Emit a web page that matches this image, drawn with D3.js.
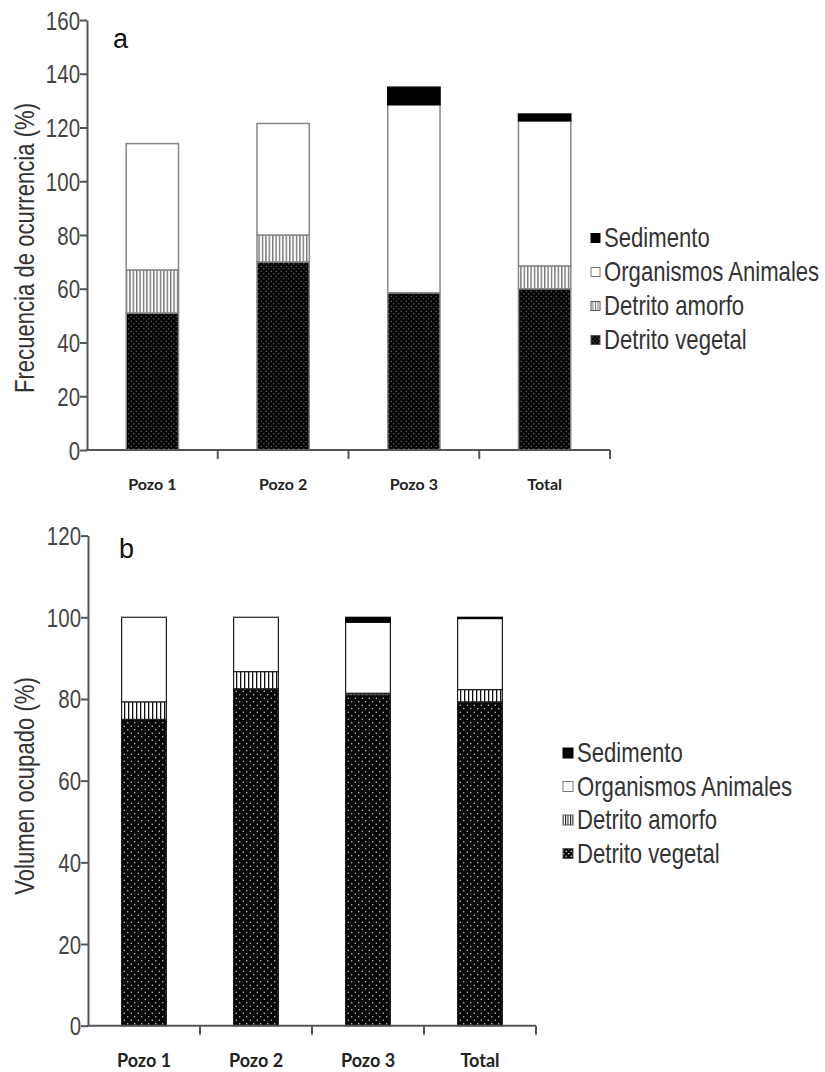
<!DOCTYPE html>
<html><head><meta charset="utf-8">
<script src="https://cdn.jsdelivr.net/npm/d3@7/dist/d3.min.js"></script>
<style>
html,body{margin:0;padding:0;background:#fff;}
svg{display:block;}
</style></head>
<body>
<svg id="chart" width="825" height="1072"></svg>
<script>
// ---------- DATA ----------
const categories = ["Pozo 1", "Pozo 2", "Pozo 3", "Total"];
const seriesNames = ["Detrito vegetal", "Detrito amorfo", "Organismos Animales", "Sedimento"];
const legendOrder = ["Sedimento", "Organismos Animales", "Detrito amorfo", "Detrito vegetal"];

// Panel a: Frecuencia de ocurrencia (%)
const freqVegetal = [51, 70, 58.5, 60];
const freqAmorfo = [16, 10, 0, 8.5];
const freqOrganismos = [47, 41.5, 70, 54];
const freqSedimento = [0, 0, 6.5, 2.5];
const freqTicks = [0, 20, 40, 60, 80, 100, 120, 140, 160];

// Panel b: Volumen ocupado (%)
const volVegetal = [75, 82.5, 81, 79.3];
const volAmorfo = [4.3, 4.2, 0.4, 3];
const volOrganismos = [20.7, 13.3, 17.4, 17.4];
const volSedimento = [0, 0, 1.2, 0.3];
const volTicks = [0, 20, 40, 60, 80, 100, 120];

// ---------- DRAW ----------
const svg = d3.select("#chart");
const defs = svg.append("defs");
const NARROW = 0.82;
const sansFont = "'Liberation Sans', Arial, sans-serif";

function makePatterns(id, opts) {
  const pd = defs.append("pattern").attr("id", id + "-dots")
    .attr("patternUnits", "userSpaceOnUse").attr("width", opts.dotStep).attr("height", opts.dotStep);
  pd.append("rect").attr("width", opts.dotStep).attr("height", opts.dotStep).attr("fill", "#050505");
  pd.append("circle").attr("cx", opts.dotStep * 0.25).attr("cy", opts.dotStep * 0.25).attr("r", opts.dotR).attr("fill", opts.dotColor);
  pd.append("circle").attr("cx", opts.dotStep * 0.75).attr("cy", opts.dotStep * 0.75).attr("r", opts.dotR).attr("fill", opts.dotColor);
  const ps = defs.append("pattern").attr("id", id + "-stripes")
    .attr("patternUnits", "userSpaceOnUse").attr("width", opts.stripeStep).attr("height", 10);
  ps.append("rect").attr("width", opts.stripeStep).attr("height", 10).attr("fill", "#fff");
  ps.append("rect").attr("x", 0).attr("width", opts.stripeW).attr("height", 10).attr("fill", opts.stripeColor);
}
makePatterns("a", {dotStep: 5, dotR: 0.6, dotColor: "#9a9a9a", stripeStep: 3.4, stripeW: 1.4, stripeColor: "#777"});
makePatterns("b", {dotStep: 7, dotR: 0.7, dotColor: "#e6e6e6", stripeStep: 4, stripeW: 1.3, stripeColor: "#111"});
makePatterns("la", {dotStep: 4, dotR: 0.6, dotColor: "#999", stripeStep: 2.5, stripeW: 1, stripeColor: "#777"});
makePatterns("lb", {dotStep: 5, dotR: 0.8, dotColor: "#ddd", stripeStep: 2.5, stripeW: 1, stripeColor: "#111"});

function drawPanel(cfg) {
  const g = svg.append("g");
  const series = [cfg.vegetal, cfg.amorfo, cfg.organismos, cfg.sedimento];
  const rows = categories.map((c, i) => {
    const r = {cat: c};
    seriesNames.forEach((s, k) => r[s] = series[k][i]);
    return r;
  });
  const stack = d3.stack().keys(seriesNames)(rows);

  const y = d3.scaleLinear().domain([0, cfg.yMax]).range([cfg.y0, cfg.y1]);
  const x = d3.scaleBand().domain(categories).range([cfg.x0, cfg.x1])
    .paddingInner(0.6).paddingOuter(0.3);
  const step = x.step();

  const fills = {
    "Detrito vegetal": `url(#${cfg.id}-dots)`,
    "Detrito amorfo": `url(#${cfg.id}-stripes)`,
    "Organismos Animales": "#fff",
    "Sedimento": "#000"
  };

  stack.forEach(layer => {
    g.append("g").selectAll("rect").data(layer.filter(d => d[1] - d[0] > 0)).join("rect")
      .attr("x", d => x(d.data.cat))
      .attr("width", x.bandwidth())
      .attr("y", d => y(d[1]))
      .attr("height", d => y(d[0]) - y(d[1]))
      .attr("fill", fills[layer.key])
      .attr("stroke", layer.key === "Sedimento" ? "#000" : cfg.barStroke)
      .attr("stroke-width", cfg.barStrokeW);
  });

  // y axis
  const ya = g.append("g").attr("transform", `translate(${cfg.x0},0)`)
    .call(d3.axisLeft(y).tickValues(cfg.ticks).tickSize(7).tickSizeOuter(0));
  ya.select(".domain").attr("stroke", "#555").attr("stroke-width", 2);
  ya.selectAll(".tick line").attr("stroke", "#555").attr("stroke-width", 2);
  ya.selectAll(".tick text").attr("x", -8.5).attr("fill", "#444")
    .attr("transform", `scale(${NARROW},1)`)
    .style("font-family", sansFont)
    .style("font-size", "25px").attr("dy", "0.36em");

  // x axis line
  g.append("line").attr("x1", cfg.x0 - 1).attr("x2", cfg.x1).attr("y1", cfg.y0).attr("y2", cfg.y0)
    .attr("stroke", "#555").attr("stroke-width", 2);
  g.append("g").selectAll("line").data(categories).join("line")
    .attr("x1", c => x(c) + x.bandwidth() + step * 0.3)
    .attr("x2", c => x(c) + x.bandwidth() + step * 0.3)
    .attr("y1", cfg.y0).attr("y2", cfg.y0 + 9)
    .attr("stroke", "#555").attr("stroke-width", 2);
  g.append("g").selectAll("text").data(categories).join("text")
    .attr("x", c => x(c) + x.bandwidth() / 2)
    .attr("y", cfg.labelY)
    .attr("text-anchor", "middle").attr("dominant-baseline", "central")
    .attr("fill", "#222")
    .style("font-family", "Lato, 'Open Sans', sans-serif").style("font-weight", "bold")
    .style("font-size", cfg.labelSize + "px")
    .text(c => c);

  // y title
  g.append("text")
    .attr("transform", `translate(${cfg.titleX},${cfg.titleY}) rotate(-90) scale(${NARROW},1)`)
    .attr("text-anchor", "middle").attr("dominant-baseline", "central")
    .attr("fill", "#333")
    .style("font-family", sansFont)
    .style("font-size", cfg.titleSize + "px")
    .text(cfg.title);

  // panel letter
  g.append("text").attr("x", cfg.letterX).attr("y", cfg.letterY)
    .attr("fill", "#111")
    .style("font-family", sansFont).style("font-size", "27px")
    .text(cfg.letter);

  // legend
  const lg = g.append("g");
  const lfills = {
    "Detrito vegetal": `url(#l${cfg.id}-dots)`,
    "Detrito amorfo": `url(#l${cfg.id}-stripes)`,
    "Organismos Animales": "#fff",
    "Sedimento": "#000"
  };
  legendOrder.forEach((name, i) => {
    const yy = cfg.legY + i * cfg.legStep;
    lg.append("rect").attr("x", cfg.legX).attr("y", yy - cfg.legBox / 2)
      .attr("width", cfg.legBox).attr("height", cfg.legBox)
      .attr("fill", lfills[name])
      .attr("stroke", name === "Organismos Animales" ? "#777" : (name === "Sedimento" ? "#000" : "#555"))
      .attr("stroke-width", 1);
    lg.append("text")
      .attr("transform", `translate(${cfg.legX + cfg.legBox + 4},${yy}) scale(${NARROW},1)`)
      .attr("dominant-baseline", "central").attr("fill", "#333")
      .style("font-family", sansFont)
      .style("font-size", "27px")
      .text(name);
  });
}

drawPanel({
  id: "a", vegetal: freqVegetal, amorfo: freqAmorfo, organismos: freqOrganismos, sedimento: freqSedimento,
  yMax: 160, ticks: freqTicks, y0: 450, y1: 20, x0: 87, x1: 610,
  barStroke: "#888", barStrokeW: 1.5, labelY: 483, labelSize: 16,
  title: "Frecuencia de ocurrencia (%)", titleSize: 27, titleX: 25, titleY: 248,
  letter: "a", letterX: 113, letterY: 48,
  legX: 591, legY: 238, legStep: 34, legBox: 9
});

drawPanel({
  id: "b", vegetal: volVegetal, amorfo: volAmorfo, organismos: volOrganismos, sedimento: volSedimento,
  yMax: 120, ticks: volTicks, y0: 1025.7, y1: 535.6, x0: 88, x1: 536,
  barStroke: "#222", barStrokeW: 1.2, labelY: 1060, labelSize: 18,
  title: "Volumen ocupado (%)", titleSize: 27, titleX: 25, titleY: 786,
  letter: "b", letterX: 119, letterY: 558,
  legX: 563, legY: 753, legStep: 33.5, legBox: 10
});
</script>
</body></html>
